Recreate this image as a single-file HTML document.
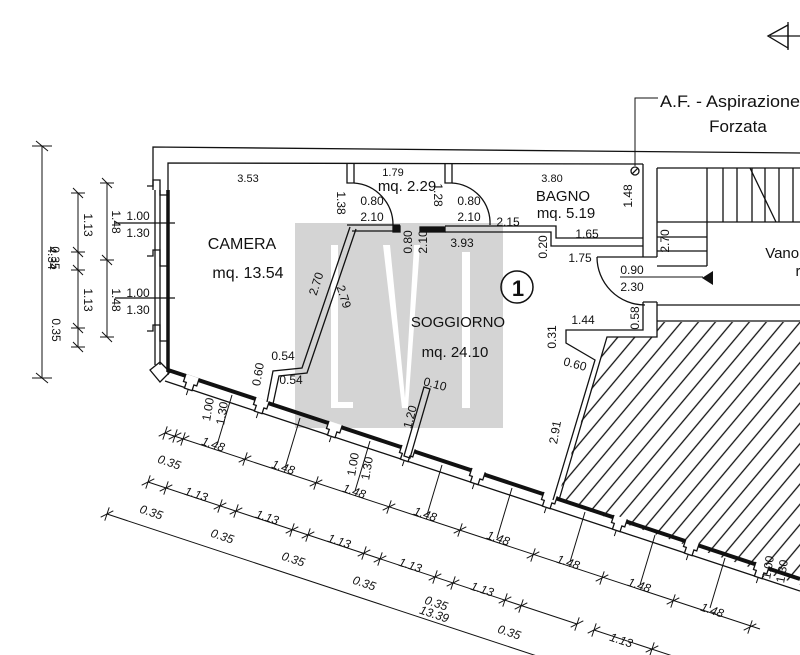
<!DOCTYPE html>
<html><head><meta charset="utf-8"><style>
html,body{margin:0;padding:0;background:#fff;}
svg{display:block;}
text{font-family:"Liberation Sans",sans-serif;fill:#111;}
</style></head><body>
<svg width="800" height="655" viewBox="0 0 800 655" xmlns="http://www.w3.org/2000/svg">
<defs>
<pattern id="h" patternUnits="userSpaceOnUse" width="10" height="13" patternTransform="rotate(-50)">
<line x1="0" y1="1" x2="10" y2="1" stroke="#111" stroke-width="1.3"/>
</pattern>
<g id="tk"><line x1="-5" y1="5" x2="5" y2="-5" stroke="#111" stroke-width="1"/><line x1="0" y1="-7" x2="0" y2="7" stroke="#111" stroke-width="1"/></g>
<g id="pl"><path d="M-7,-2 L-7,6 L-4,6 L-4,12 L4,12 L4,6 L7,6 L7,-2" fill="#fff" stroke="#111" stroke-width="1.3"/><line x1="0" y1="12" x2="0" y2="18" stroke="#111"/></g>
</defs>

<!-- watermark -->
<rect x="295" y="223" width="208" height="205" fill="#d4d4d4"/>
<rect x="331" y="245" width="7" height="163" fill="#fff"/>
<rect x="331" y="402" width="22" height="6" fill="#fff"/>
<polygon points="383,245 390,245 405,398 414,245 420,245 408,408 402,408" fill="#fff"/>
<rect x="462" y="252" width="8" height="156" fill="#fff"/>

<!-- hatch -->
<polygon points="657,322 800,322 800,585 557,500 607,337 657,337" fill="url(#h)"/>

<g fill="none" stroke="#111" stroke-width="1.3">
<!-- top wall -->
<polyline points="153,190 153,147 800,153"/>
<polyline points="168,375 168,163 643,164"/>
<line x1="657" y1="168" x2="800" y2="168"/>
<!-- left wall windows -->
<line x1="168" y1="190" x2="168" y2="372" stroke-width="3.5"/>
<line x1="155" y1="190" x2="155" y2="365"/>
<line x1="160" y1="190" x2="160" y2="365"/>
<path d="M147,186 L153,186 L153,180 L160,180 L160,195 L168,195"/>
<path d="M147,256 L153,256 L153,250 L160,250 L160,266 L168,266"/>
<path d="M147,331 L153,331 L153,325 L160,325 L160,341 L168,341"/>
<path d="M150,370 L160,362 L170,372 L160,382 Z"/>
<line x1="115" y1="223" x2="175" y2="223"/>
<line x1="115" y1="298" x2="175" y2="298"/>
<!-- bottom diagonal wall -->
<line x1="168" y1="370" x2="800" y2="579" stroke-width="4"/>
<line x1="165" y1="381" x2="800" y2="591"/>
</g>

<!-- pilasters -->
<use href="#pl" transform="translate(192,378) rotate(18.4)"/>
<use href="#pl" transform="translate(262,401) rotate(18.4)"/>
<use href="#pl" transform="translate(335,425) rotate(18.4)"/>
<use href="#pl" transform="translate(408,449) rotate(18.4)"/>
<use href="#pl" transform="translate(478,472) rotate(18.4)"/>
<use href="#pl" transform="translate(550,496) rotate(18.4)"/>
<use href="#pl" transform="translate(620,519) rotate(18.4)"/>
<use href="#pl" transform="translate(692,543) rotate(18.4)"/>
<use href="#pl" transform="translate(762,566) rotate(18.4)"/>

<!-- window jamb lines -->
<g stroke="#111" stroke-width="1">
<line x1="232" y1="395" x2="217" y2="445"/>
<line x1="300" y1="418" x2="285" y2="468"/>
<line x1="370" y1="441" x2="355" y2="491"/>
<line x1="442" y1="465" x2="427" y2="515"/>
<line x1="512" y1="488" x2="497" y2="538"/>
<line x1="585" y1="512" x2="570" y2="562"/>
<line x1="655" y1="535" x2="640" y2="585"/>
<line x1="725" y1="558" x2="710" y2="608"/>
</g>

<!-- interior walls -->
<g fill="none" stroke="#111" stroke-width="1.3">
<path d="M347,163 L347,183 L354,183 L354,163"/>
<path d="M445,163 L445,183 L452,183 L452,163"/>
<path d="M354,183 A42,42 0 0 1 393,225"/>
<path d="M452,183 A40,40 0 0 1 490,225"/>
<path d="M347,225 L400,225 M352,231 L400,231"/>
<rect x="393" y="226" width="7" height="6" fill="#111"/>
<rect x="420" y="227" width="25" height="5" fill="#111"/>
<path d="M445,226 L556,226 L556,238 L643,238"/>
<path d="M445,232 L551,232 L551,246 L643,246"/>
<path d="M350,227 L302,368 L273,371 L267,402"/>
<path d="M356,229 L307,373 L279,376 L273,404"/>
<!-- bagno right / column -->
<line x1="643" y1="164" x2="643" y2="257"/>
<line x1="657" y1="168" x2="657" y2="257"/>
<line x1="597" y1="257" x2="657" y2="257"/>
<path d="M597,257 A48,48 0 0 0 645,305"/>
<path d="M643,302 L657,302 M643,302 L643,330 L566,330 L566,343 L595,360 L553,500"/>
<path d="M657,302 L657,337 L607,337 L559,500"/>
<!-- 0.10 stub -->
<path d="M424,387 L430,389 L410,458 L404,456 Z"/>
<!-- stairs -->
<line x1="657" y1="305" x2="800" y2="305"/>
<line x1="657" y1="321" x2="800" y2="321"/>
<line x1="657" y1="222" x2="800" y2="222"/>
<line x1="707" y1="168" x2="707" y2="266"/>
<line x1="657" y1="237" x2="707" y2="237"/>
<line x1="657" y1="251" x2="707" y2="251"/>
<line x1="657" y1="266" x2="707" y2="266"/>
<line x1="723" y1="168" x2="723" y2="222"/>
<line x1="737" y1="168" x2="737" y2="222"/>
<line x1="752" y1="168" x2="752" y2="222"/>
<line x1="765" y1="168" x2="765" y2="222"/>
<line x1="779" y1="168" x2="779" y2="222"/>
<line x1="793" y1="168" x2="793" y2="222"/>
<line x1="750" y1="168" x2="776" y2="222"/>
<line x1="620" y1="277" x2="703" y2="277" stroke-width="1"/>
<!-- leader -->
<polyline points="658,98 635,98 635,166" stroke-width="1"/>
<circle cx="635" cy="171" r="4"/>
<line x1="632" y1="174" x2="638" y2="168"/>
<!-- top-right arrow -->
<polygon points="768,36 788,25 788,48"/>
<line x1="788" y1="22" x2="788" y2="50"/>
<line x1="770" y1="36" x2="800" y2="36"/>
<!-- circle 1 -->
<circle cx="517" cy="287" r="16" stroke-width="1.5"/>
</g>
<polygon points="702,278 713,271 713,285" fill="#111"/>

<!-- left dims -->
<g stroke="#111" stroke-width="1" fill="none">
<line x1="42" y1="146" x2="42" y2="378"/>
<line x1="32" y1="146" x2="52" y2="146"/><line x1="36" y1="141" x2="48" y2="151"/>
<line x1="32" y1="378" x2="52" y2="378"/><line x1="36" y1="373" x2="48" y2="383"/>
<line x1="78" y1="193" x2="78" y2="347"/>
<line x1="107" y1="183" x2="107" y2="337"/>
</g>
<use href="#tk" transform="translate(78,193) rotate(90)"/>
<use href="#tk" transform="translate(78,252) rotate(90)"/>
<use href="#tk" transform="translate(78,270) rotate(90)"/>
<use href="#tk" transform="translate(78,328) rotate(90)"/>
<use href="#tk" transform="translate(78,347) rotate(90)"/>
<use href="#tk" transform="translate(107,183) rotate(90)"/>
<use href="#tk" transform="translate(107,260) rotate(90)"/>
<use href="#tk" transform="translate(107,337) rotate(90)"/>

<!-- bottom dim lines -->
<g stroke="#111" stroke-width="1">
<line x1="165" y1="433" x2="760" y2="629"/>
<line x1="148" y1="482" x2="577" y2="624"/>
<line x1="594" y1="630" x2="700" y2="665"/>
<line x1="107" y1="514" x2="540" y2="657"/>
</g>
<use href="#tk" transform="translate(165,433) rotate(18.4)"/>
<use href="#tk" transform="translate(175,436) rotate(18.4)"/>
<use href="#tk" transform="translate(183,439) rotate(18.4)"/>
<use href="#tk" transform="translate(245,459) rotate(18.4)"/>
<use href="#tk" transform="translate(316,483) rotate(18.4)"/>
<use href="#tk" transform="translate(389,507) rotate(18.4)"/>
<use href="#tk" transform="translate(460,530) rotate(18.4)"/>
<use href="#tk" transform="translate(533,555) rotate(18.4)"/>
<use href="#tk" transform="translate(602,578) rotate(18.4)"/>
<use href="#tk" transform="translate(673,601) rotate(18.4)"/>
<use href="#tk" transform="translate(750,627) rotate(18.4)"/>
<use href="#tk" transform="translate(148,482) rotate(18.4)"/>
<use href="#tk" transform="translate(166,488) rotate(18.4)"/>
<use href="#tk" transform="translate(220,506) rotate(18.4)"/>
<use href="#tk" transform="translate(236,511) rotate(18.4)"/>
<use href="#tk" transform="translate(292,530) rotate(18.4)"/>
<use href="#tk" transform="translate(308,535) rotate(18.4)"/>
<use href="#tk" transform="translate(364,553) rotate(18.4)"/>
<use href="#tk" transform="translate(380,559) rotate(18.4)"/>
<use href="#tk" transform="translate(435,577) rotate(18.4)"/>
<use href="#tk" transform="translate(453,583) rotate(18.4)"/>
<use href="#tk" transform="translate(505,600) rotate(18.4)"/>
<use href="#tk" transform="translate(521,606) rotate(18.4)"/>
<use href="#tk" transform="translate(577,624) rotate(18.4)"/>
<use href="#tk" transform="translate(594,630) rotate(18.4)"/>
<use href="#tk" transform="translate(652,649) rotate(18.4)"/>
<use href="#tk" transform="translate(107,514) rotate(18.4)"/>

<!-- labels -->
<g font-size="12" text-anchor="middle">
<text x="248" y="182" font-size="11">3.53</text>
<text x="393" y="176" font-size="11">1.79</text>
<text x="407" y="191" font-size="15">mq.  2.29</text>
<text x="372" y="205">0.80</text><text x="372" y="221">2.10</text>
<text x="469" y="205">0.80</text><text x="469" y="221">2.10</text>
<text transform="translate(337,203) rotate(90)">1.38</text>
<text transform="translate(434,195) rotate(90)">1.28</text>
<text x="552" y="182" font-size="11">3.80</text>
<text x="563" y="201" font-size="15">BAGNO</text>
<text x="566" y="218" font-size="15">mq.  5.19</text>
<text transform="translate(632,196) rotate(-90)">1.48</text>
<text x="508" y="226">2.15</text>
<text x="587" y="238">1.65</text>
<text x="462" y="247">3.93</text>
<text transform="translate(412,242) rotate(-90)">0.80</text>
<text transform="translate(427,242) rotate(-90)">2.10</text>
<text transform="translate(547,247) rotate(-90)">0.20</text>
<text x="580" y="262">1.75</text>
<text x="632" y="274">0.90</text>
<text x="632" y="291">2.30</text>
<text transform="translate(639,318) rotate(-90)">0.58</text>
<text transform="translate(669,241) rotate(-90)">2.70</text>
<text x="518" y="296" font-size="22" font-weight="bold">1</text>
<text x="242" y="249" font-size="16">CAMERA</text>
<text x="248" y="278" font-size="16">mq.  13.54</text>
<text transform="translate(320,285) rotate(-72)">2.70</text>
<text transform="translate(340,298) rotate(72)">2.79</text>
<text x="283" y="360">0.54</text>
<text x="291" y="384">0.54</text>
<text transform="translate(262,375) rotate(-80)">0.60</text>
<text x="458" y="327" font-size="15">SOGGIORNO</text>
<text x="455" y="357" font-size="15">mq.  24.10</text>
<text transform="translate(434,388) rotate(15)">0.10</text>
<text transform="translate(414,418) rotate(-75)">1.20</text>
<text x="583" y="324">1.44</text>
<text transform="translate(556,337) rotate(-90)">0.31</text>
<text transform="translate(574,368) rotate(15)">0.60</text>
<text transform="translate(559,433) rotate(-80)">2.91</text>
<text x="788" y="258" font-size="15">Vano s</text>
<text x="798" y="276" font-size="15">r</text>
<text x="730" y="107" font-size="17" textLength="140" lengthAdjust="spacingAndGlyphs">A.F. - Aspirazione</text>
<text x="738" y="132" font-size="17">Forzata</text>
<!-- left -->
<text x="138" y="220">1.00</text><text x="138" y="237">1.30</text>
<text x="138" y="297">1.00</text><text x="138" y="314">1.30</text>
<text transform="translate(84,225) rotate(90)">1.13</text>
<text transform="translate(84,300) rotate(90)">1.13</text>
<text transform="translate(112,222) rotate(90)">1.48</text>
<text transform="translate(112,300) rotate(90)">1.48</text>
<text transform="translate(48,258) rotate(90)">4.34</text>
<text transform="translate(51,258) rotate(90)">0.35</text>
<text transform="translate(52,330) rotate(90)">0.35</text>
<!-- bottom -->
<text transform="translate(212,410) rotate(-80)">1.00</text>
<text transform="translate(226,414) rotate(-80)">1.30</text>
<text transform="translate(357,465) rotate(-80)">1.00</text>
<text transform="translate(371,469) rotate(-80)">1.30</text>
<text transform="translate(772,568) rotate(-80)">1.00</text>
<text transform="translate(786,572) rotate(-80)">1.30</text>
<g font-style="italic">
<text transform="translate(168,466) rotate(18.4)">0.35</text>
<text transform="translate(212,448) rotate(18.4)">1.48</text>
<text transform="translate(282,471) rotate(18.4)">1.48</text>
<text transform="translate(353,495) rotate(18.4)">1.48</text>
<text transform="translate(424,518) rotate(18.4)">1.48</text>
<text transform="translate(497,542) rotate(18.4)">1.48</text>
<text transform="translate(567,566) rotate(18.4)">1.48</text>
<text transform="translate(638,589) rotate(18.4)">1.48</text>
<text transform="translate(711,614) rotate(18.4)">1.48</text>
<text transform="translate(195,498) rotate(18.4)">1.13</text>
<text transform="translate(266,521) rotate(18.4)">1.13</text>
<text transform="translate(338,545) rotate(18.4)">1.13</text>
<text transform="translate(409,569) rotate(18.4)">1.13</text>
<text transform="translate(481,593) rotate(18.4)">1.13</text>
<text transform="translate(620,644) rotate(18.4)">1.13</text>
<text transform="translate(150,516) rotate(18.4)">0.35</text>
<text transform="translate(221,540) rotate(18.4)">0.35</text>
<text transform="translate(292,563) rotate(18.4)">0.35</text>
<text transform="translate(363,587) rotate(18.4)">0.35</text>
<text transform="translate(435,607) rotate(18.4)">0.35</text>
<text transform="translate(433,618) rotate(18.4)">13.39</text>
<text transform="translate(508,636) rotate(18.4)">0.35</text>
</g>
</g>
</svg>
</body></html>
